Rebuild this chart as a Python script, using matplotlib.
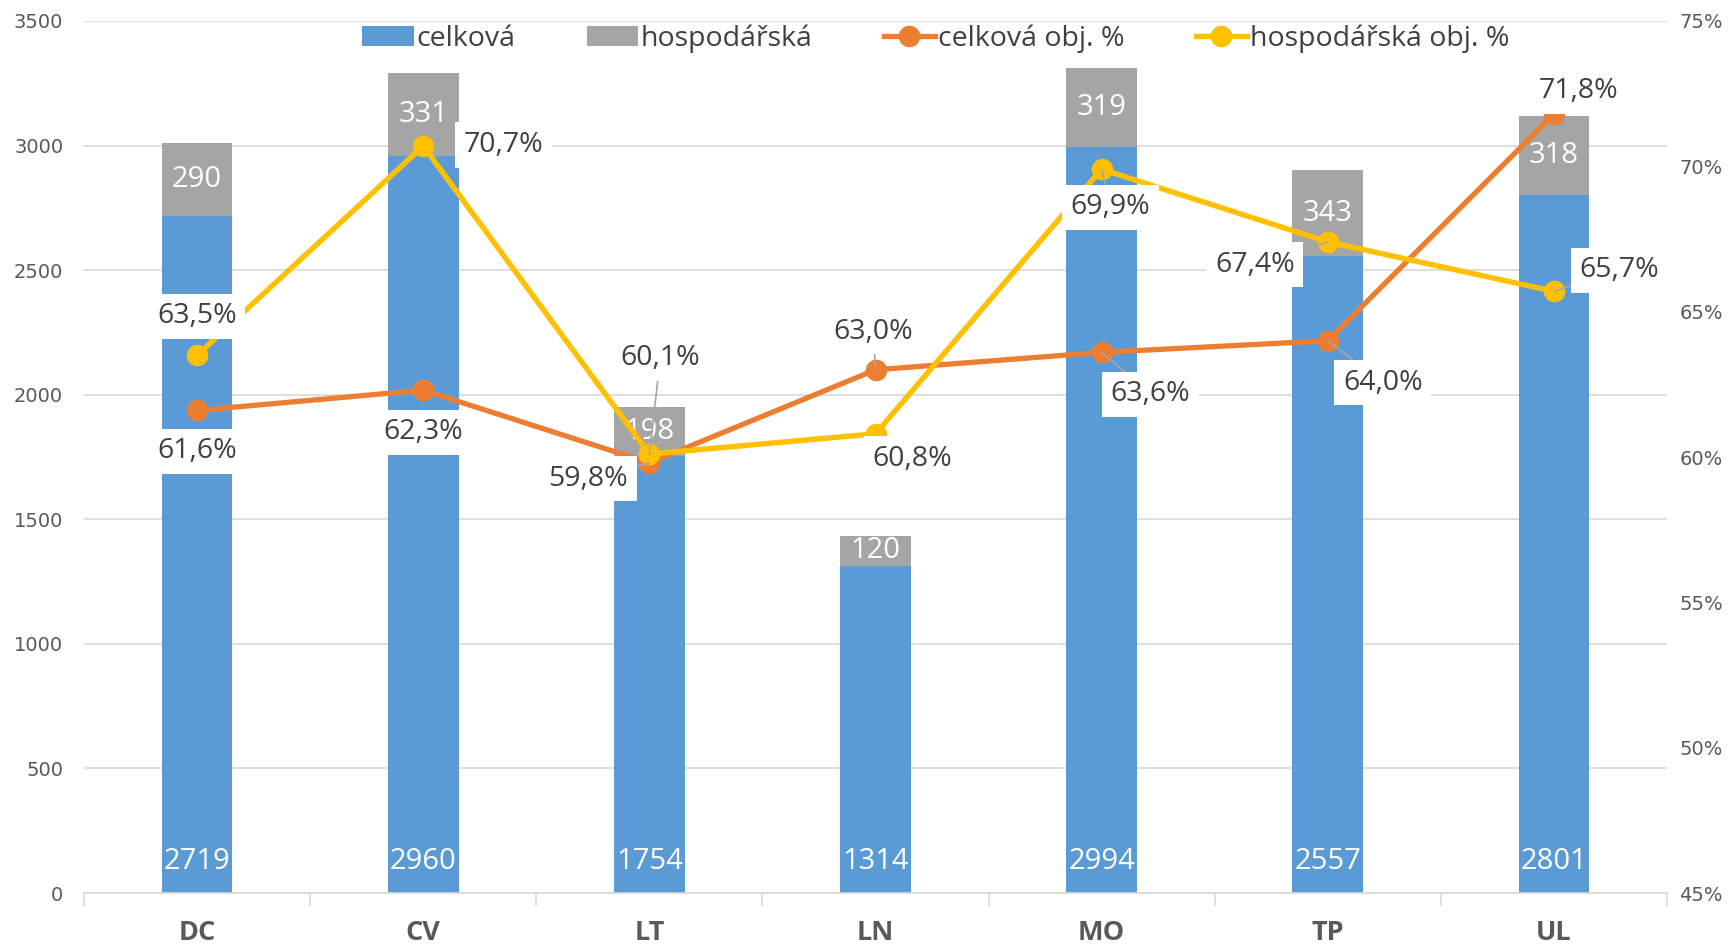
import matplotlib
matplotlib.use('Agg')
import matplotlib.pyplot as plt
from matplotlib.patches import Patch
from matplotlib.lines import Line2D

# ---------------- data ----------------
categories = ['DC', 'CV', 'LT', 'LN', 'MO', 'TP', 'UL']
celkova = [2719, 2960, 1754, 1314, 2994, 2557, 2801]
hospodarska = [290, 331, 198, 120, 319, 343, 318]
celkova_pct = [61.6, 62.3, 59.8, 63.0, 63.6, 64.0, 71.8]
hosp_pct = [63.5, 70.7, 60.1, 60.8, 69.9, 67.4, 65.7]
left_ticks = [0, 500, 1000, 1500, 2000, 2500, 3000, 3500]
right_ticks = [45, 50, 55, 60, 65, 70, 75]
series_names = ['celková', 'hospodářská', 'celková obj. %', 'hospodářská obj. %']

# ---------------- style ----------------
C_BLUE = '#5B9BD5'
C_GRAY = '#A5A5A5'
C_ORANGE = '#ED7D31'
C_YELLOW = '#FFC000'
C_TEXT = '#404040'
C_TICK = '#595959'
C_GRID = '#D9D9D9'
LFONT = 'Open Sans'

# label offsets in pixels (x right, y up) relative to the data point
celk_off = [(0, -41), (0, -42), (-61, -16), (-2, 38), (49, -42), (55, -42), (25, 23)]
hosp_off = [(0, 39), (80, 1), (11, 96), (37, -25), (9, -38), (-73, -23), (65, 21)]
celk_leader = [False, False, True, True, True, True, False]
hosp_leader = [False, False, True, False, True, True, True]

fig = plt.figure(figsize=(17.35, 9.46), dpi=100)
ax = fig.add_axes([84 / 1735, 1 - 893 / 946, (1667 - 84) / 1735, (893 - 21) / 946])
x = list(range(len(categories)))
bw = 0.313

ax.bar(x, celkova, width=bw, color=C_BLUE, zorder=2)
ax.bar(x, hospodarska, width=bw, bottom=celkova, color=C_GRAY, zorder=2)
ax.set_ylim(0, 3500)
ax.set_xlim(-0.5, len(categories) - 0.5)
ax.set_yticks(left_ticks)
ax.set_yticklabels([str(t) for t in left_ticks])
ax.grid(axis='y', color=C_GRID, lw=1.2)
ax.set_axisbelow(True)
for s in ['top', 'left', 'right']:
    ax.spines[s].set_visible(False)
ax.spines['bottom'].set_color(C_GRID)
ax.spines['bottom'].set_linewidth(1.2)
ax.tick_params(axis='y', length=0, pad=15, labelsize=14, labelcolor=C_TICK)
for lab in ax.get_yticklabels():
    lab.set_family('DejaVu Sans')
ax.set_xticks(x)
ax.set_xticklabels(categories, fontsize=19.5, fontweight='bold', color=C_TICK, family=LFONT)
ax.tick_params(axis='x', which='major', length=0, pad=19.5)
ax.set_xticks([i - 0.5 for i in range(len(categories) + 1)], minor=True)
ax.tick_params(axis='x', which='minor', length=9, color=C_GRID, width=1.2)

# bar labels
for i in x:
    ax.annotate(str(celkova[i]), (i, 0), xytext=(0, 32), textcoords='offset pixels',
                ha='center', va='center', color='white', fontsize=21, family=LFONT, zorder=3)
    ax.text(i, celkova[i] + hospodarska[i] / 2, str(hospodarska[i]), ha='center', va='center',
            color='white', fontsize=21, family=LFONT, zorder=3)

ax2 = ax.twinx()
ax2.set_ylim(45, 75)
ax2.set_yticks(right_ticks)
ax2.set_yticklabels([f'{t}%' for t in right_ticks])
for s in ['top', 'left', 'right', 'bottom']:
    ax2.spines[s].set_visible(False)
ax2.tick_params(axis='y', length=0, pad=9, labelsize=14, labelcolor=C_TICK)
for lab in ax2.get_yticklabels():
    lab.set_family('DejaVu Sans')

ax2.plot(x, celkova_pct, color=C_ORANGE, lw=3.8, marker='o', markersize=14.5, zorder=3,
         solid_capstyle='round')
ax2.plot(x, hosp_pct, color=C_YELLOW, lw=3.9, marker='o', markersize=14.5, zorder=4,
         solid_capstyle='round')


def fmt(v):
    return f'{v:.1f}'.replace('.', ',') + '%'


def add_labels(vals, offs, leaders):
    for i, v in enumerate(vals):
        kw = {}
        if leaders[i]:
            kw['arrowprops'] = dict(arrowstyle='-', color='#A6A6A6', lw=1.2, shrinkA=0, shrinkB=0)
        ax2.annotate(fmt(v), (i, v), xytext=offs[i], textcoords='offset pixels',
                     ha='center', va='center', fontsize=20.5, family=LFONT, color=C_TEXT,
                     bbox=dict(boxstyle='square,pad=0.3', fc='white', ec='none'),
                     zorder=6, **kw)


add_labels(celkova_pct, celk_off, celk_leader)
add_labels(hosp_pct, hosp_off, hosp_leader)

handles = [
    Patch(facecolor=C_BLUE, edgecolor='none'),
    Patch(facecolor=C_GRAY, edgecolor='none'),
    Line2D([], [], color=C_ORANGE, lw=3.8, marker='o', markersize=14.5),
    Line2D([], [], color=C_YELLOW, lw=3.9, marker='o', markersize=14.5),
]
leg = ax2.legend(handles, series_names, loc='center', bbox_to_anchor=(0.538, 0.98),
                 ncol=4, frameon=False, prop={'family': LFONT, 'size': 20.5},
                 handlelength=1.8, handletextpad=0.1, columnspacing=2.5, labelcolor=C_TEXT)
leg.set_zorder(10)

fig.savefig('out.png', dpi=100)
